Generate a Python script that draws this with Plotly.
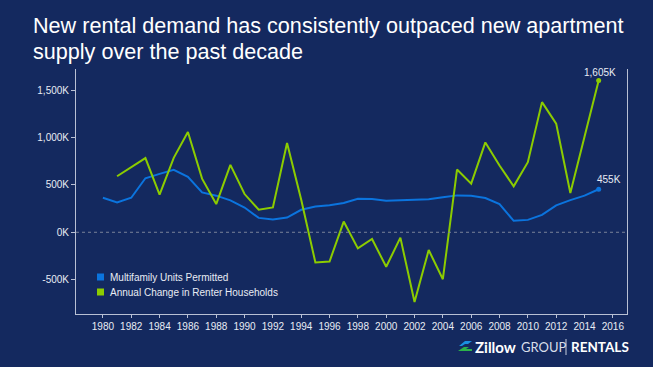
import plotly.graph_objects as go

years_blue = list(range(1980, 2016))
multifamily_permitted = [365, 316, 365, 571, 617, 660, 585, 422, 387, 337, 262, 152, 135, 156, 238, 273,
                         286, 309, 355, 351, 333, 337, 344, 348, 369, 390, 387, 362, 298, 121, 131, 184,
                         284, 340, 387, 455]
years_green = list(range(1981, 2016))
renter_change = [592, 688, 784, 397, 787, 1060, 567, 298, 713, 404, 238, 262, 943, 344, -319, -309,
                 113, -170, -71, -365, -57, -738, -188, -496, 663, 514, 950, 706, 486, 741, 1376, 1149,
                 415, 1010, 1605]
series_names = ["Multifamily Units Permitted", "Annual Change in Renter Households"]
tick_years = list(range(1978, 2017, 2))
tick_labels = ["" if y == 1978 else str(y) for y in tick_years]
y_ticks = [-500, 0, 500, 1000, 1500]
y_tick_labels = ["-500K", "0K", "500K", "1,000K", "1,500K"]

W, H = 653, 367
ML, MR, MT, MB = 76, 26, 69, 53
PW, PH = W - ML - MR, H - MT - MB

def px(x):  # pixel -> paper x
    return (x - ML) / PW

def py(y):  # pixel -> paper y
    return (H - MB - y) / PH

BG = "#14295f"
BLUE = "#0b74de"
GREEN = "#8ccc00"
AXIS = "#b8c0d4"
TXT = "#e8ecf4"
FONT = "Liberation Sans, Arial, sans-serif"

fig = go.Figure()
fig.add_trace(go.Scatter(x=years_blue, y=multifamily_permitted, mode="lines", name=series_names[0],
                         line=dict(color=BLUE, width=2), showlegend=False, hoverinfo="skip"))
fig.add_trace(go.Scatter(x=years_green, y=renter_change, mode="lines", name=series_names[1],
                         line=dict(color=GREEN, width=2), showlegend=False, hoverinfo="skip"))
# end markers
fig.add_trace(go.Scatter(x=[years_blue[-1]], y=[multifamily_permitted[-1]], mode="markers",
                         marker=dict(color=BLUE, size=5), cliponaxis=False,
                         showlegend=False, hoverinfo="skip"))
fig.add_trace(go.Scatter(x=[years_green[-1]], y=[renter_change[-1]], mode="markers",
                         marker=dict(color=GREEN, size=5), cliponaxis=False,
                         showlegend=False, hoverinfo="skip"))
# end labels
fig.add_annotation(x=years_blue[-1], y=multifamily_permitted[-1], xref="x", yref="y",
                   text=f"{multifamily_permitted[-1]}K", showarrow=False, xanchor="center", yanchor="bottom",
                   xshift=10, yshift=2, font=dict(color=TXT, size=10, family=FONT))
fig.add_annotation(x=years_green[-1], y=renter_change[-1], xref="x", yref="y",
                   text=f"{renter_change[-1]:,}K", showarrow=False, xanchor="center", yanchor="bottom",
                   xshift=1, yshift=0, font=dict(color=TXT, size=10, family=FONT))

shapes = [dict(type="line", xref="paper", x0=0, x1=1, yref="y", y0=0, y1=0,
               line=dict(color="#7a8399", width=1, dash="dot"))]

# manual legend
for i, (name, col) in enumerate(zip(series_names, [BLUE, GREEN])):
    cy = 277 + 15 * i
    shapes.append(dict(type="rect", xref="paper", yref="paper",
                       x0=px(97), x1=px(104), y0=py(cy + 3.5), y1=py(cy - 3.5),
                       fillcolor=col, line=dict(width=0)))
    fig.add_annotation(xref="paper", yref="paper", x=px(108), y=py(cy), xanchor="left", yanchor="middle",
                       text=name, showarrow=False, font=dict(size=10, color=TXT, family=FONT))

# logo icon (decorative)
shapes.append(dict(type="path", xref="paper", yref="paper",
                   path=f"M {px(459)},{py(346)} L {px(465)},{py(341)} L {px(472)},{py(341)} L {px(468)},{py(344)} L {px(465)},{py(344)} L {px(462)},{py(346)} Z",
                   fillcolor="#1a8fe0", line=dict(width=0)))
shapes.append(dict(type="path", xref="paper", yref="paper",
                   path=f"M {px(458)},{py(351)} L {px(464)},{py(347)} L {px(469)},{py(347)} L {px(466)},{py(349)} L {px(472)},{py(349)} L {px(472)},{py(351)} Z",
                   fillcolor="#2cb34a", line=dict(width=0)))
shapes.append(dict(type="line", xref="paper", yref="paper", x0=px(566), x1=px(566), y0=py(355), y1=py(339),
                   line=dict(color="#c8d0e0", width=1)))

fig.update_layout(
    width=W, height=H,
    paper_bgcolor=BG, plot_bgcolor=BG,
    margin=dict(l=ML, r=MR, t=MT, b=MB),
    font=dict(family=FONT, color=TXT, size=10),
    showlegend=False,
    xaxis=dict(range=[1978.1, 2017], tickvals=tick_years, ticktext=tick_labels, showgrid=False,
               zeroline=False, showline=True, linecolor=AXIS, linewidth=1, ticks="outside",
               ticklen=3, tickcolor=AXIS, tickfont=dict(size=10, color=TXT), fixedrange=True),
    yaxis=dict(range=[-864, 1726], tickvals=y_ticks, ticktext=y_tick_labels, showgrid=False,
               zeroline=False, showline=True, mirror=True, linecolor=AXIS, linewidth=1,
               ticks="outside", ticklen=4, tickcolor=AXIS, tickfont=dict(size=10, color=TXT),
               fixedrange=True),
    shapes=shapes,
)

# title, two lines
for txt, base in [("New rental demand has consistently outpaced new apartment", 26),
                  ("supply over the past decade", 51)]:
    fig.add_annotation(xref="paper", yref="paper", x=px(31), y=py(base), xanchor="left", yanchor="middle",
                       text=txt, showarrow=False,
                       font=dict(size=21.6, color="#ffffff", family=FONT))

# logo text
fig.add_annotation(xref="paper", yref="paper", x=px(473), y=py(346.5), xanchor="left", yanchor="middle",
                   text="<b>Zillow</b>", showarrow=False,
                   font=dict(size=15, color="#ffffff", family="Lato, sans-serif"))
fig.add_annotation(xref="paper", yref="paper", x=px(519), y=py(347), xanchor="left", yanchor="middle",
                   text="GROUP", showarrow=False,
                   font=dict(size=13, color="#d8deea", family="Lato, sans-serif"))
fig.add_annotation(xref="paper", yref="paper", x=px(569), y=py(347), xanchor="left", yanchor="middle",
                   text="<b>RENTALS</b>", showarrow=False,
                   font=dict(size=13.5, color="#ffffff", family="Lato, sans-serif"))

fig.write_html("out.html", config={"displayModeBar": False},
               post_script="document.body.style.margin='0';document.body.style.background='%s';" % BG)
